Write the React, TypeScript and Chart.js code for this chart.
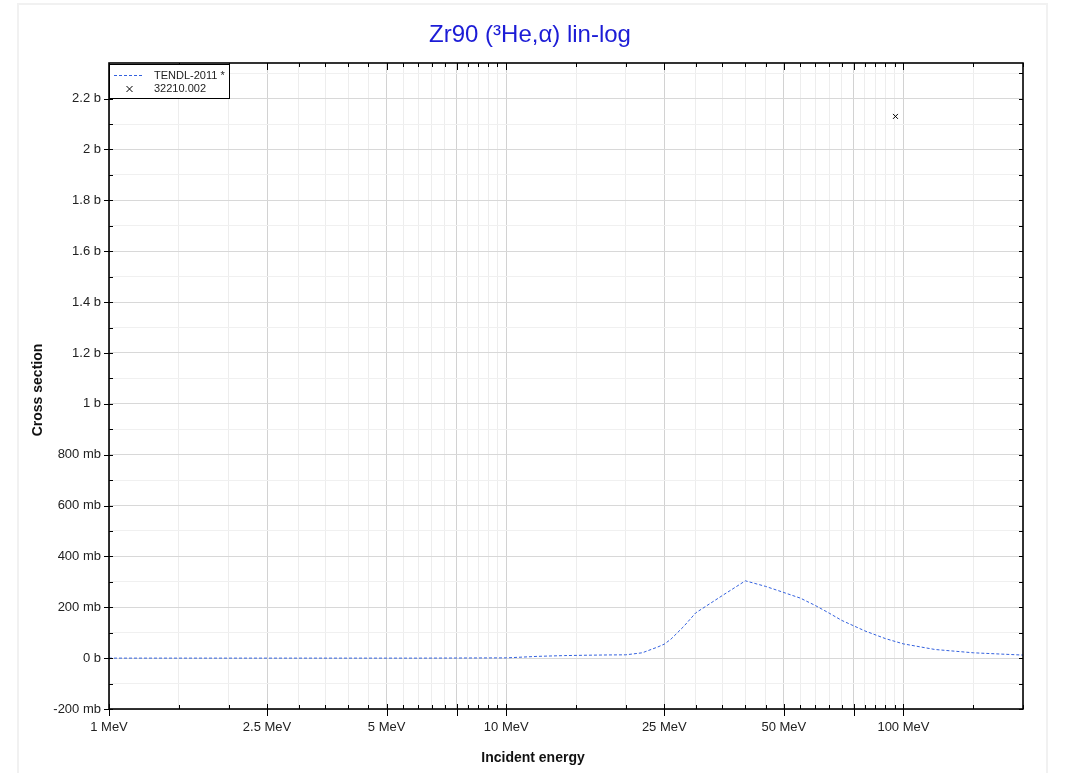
import React, { useEffect, useRef } from 'react';
import { Chart, registerables } from 'chart.js';

Chart.register(...registerables);

// ---- data ----
const TITLE = 'Zr90 (³He,α) lin-log';
const X_TITLE = 'Incident energy';
const Y_TITLE = 'Cross section';

const TENDL_LABEL = 'TENDL-2011 *';
const TENDL_ENERGY = [1, 3, 6, 10, 12, 14, 16, 18, 20, 22, 24, 25, 26, 28, 30, 35, 40, 45, 50, 55, 60, 65, 70, 80, 90, 100, 120, 150, 200];
const TENDL_XS = [0, 0, 0, 0.001, 0.007, 0.01, 0.0115, 0.0125, 0.013, 0.021, 0.043, 0.055, 0.075, 0.125, 0.178, 0.246, 0.304, 0.282, 0.258, 0.236, 0.207, 0.177, 0.148, 0.107, 0.077, 0.056, 0.034, 0.021, 0.012];

const EXFOR_LABEL = '32210.002';
const EXFOR_ENERGY = [95.5];
const EXFOR_XS = [2.13];

const X_MIN = 1;
const X_MAX = 200;
const X_TICKS = [1, 1.5, 2, 2.5, 3, 3.5, 4, 4.5, 5, 5.5, 6, 6.5, 7, 7.5, 8, 8.5, 9, 9.5, 10, 15, 20, 25, 30, 35, 40, 45, 50, 55, 60, 65, 70, 75, 80, 85, 90, 95, 100, 150, 200];
const X_MAJOR = [1, 2.5, 5, 7.5, 10, 25, 50, 75, 100];
const X_LABEL_VALUES = [1, 2.5, 5, 10, 25, 50, 100];
const X_LABEL_TEXT = ['1 MeV', '2.5 MeV', '5 MeV', '10 MeV', '25 MeV', '50 MeV', '100 MeV'];

const Y_MIN = -0.2;
const Y_MAX = 2.34;
const Y_TICKS = [-0.2, -0.1, 0, 0.1, 0.2, 0.3, 0.4, 0.5, 0.6, 0.7, 0.8, 0.9, 1, 1.1, 1.2, 1.3, 1.4, 1.5, 1.6, 1.7, 1.8, 1.9, 2, 2.1, 2.2, 2.3];
const Y_MAJOR = [-0.2, 0, 0.2, 0.4, 0.6, 0.8, 1, 1.2, 1.4, 1.6, 1.8, 2, 2.2];
const Y_LABEL_TEXT = ['-200 mb', '0 b', '200 mb', '400 mb', '600 mb', '800 mb', '1 b', '1.2 b', '1.4 b', '1.6 b', '1.8 b', '2 b', '2.2 b'];

const FONT = '"Liberation Sans", Arial, Helvetica, sans-serif';
const CURVE_COLOR = 'rgb(51, 97, 222)';

const idxIn = (v: number, arr: number[]) => arr.findIndex((a) => Math.abs(a - v) < 1e-9);

const decorPlugin = {
  id: 'decor',
  afterDatasetsDraw(chart: any) {
    const { ctx, chartArea: a, scales } = chart;
    const xs = scales.x;
    const ys = scales.y;
    ctx.save();
    ctx.strokeStyle = '#000';
    ctx.lineWidth = 1;
    ctx.beginPath();
    X_TICKS.forEach((v) => {
      const px = Math.round(xs.getPixelForValue(v)) + 0.5;
      const major = idxIn(v, X_MAJOR) >= 0;
      ctx.moveTo(px, a.bottom - (major ? 5 : 4));
      ctx.lineTo(px, a.bottom + (major ? 7 : 0));
      ctx.moveTo(px, a.top);
      ctx.lineTo(px, a.top + (major ? 7 : 4));
    });
    Y_TICKS.forEach((v) => {
      const py = Math.round(ys.getPixelForValue(v)) + 0.5;
      const major = idxIn(v, Y_MAJOR) >= 0;
      ctx.moveTo(a.left - (major ? 5 : 0), py);
      ctx.lineTo(a.left + 4, py);
      ctx.moveTo(a.right - 4, py);
      ctx.lineTo(a.right, py);
    });
    ctx.stroke();
    ctx.lineWidth = 1.6;
    ctx.strokeRect(a.left, a.top, a.right - a.left, a.bottom - a.top);
    ctx.restore();
  },
  afterDraw(chart: any) {
    const { ctx, chartArea: a } = chart;
    ctx.save();
    // title
    ctx.fillStyle = 'rgb(28, 28, 214)';
    ctx.font = `24px ${FONT}`;
    ctx.textAlign = 'center';
    ctx.textBaseline = 'alphabetic';
    ctx.fillText(TITLE, 530, 42);
    // axis titles
    ctx.fillStyle = '#111';
    ctx.font = `bold 14px ${FONT}`;
    ctx.fillText(X_TITLE, 533, 762);
    ctx.save();
    ctx.translate(42, 390);
    ctx.rotate(-Math.PI / 2);
    ctx.fillText(Y_TITLE, 0, 0);
    ctx.restore();
    // legend
    const lx = a.left;
    const ly = a.top + 1;
    ctx.fillStyle = '#fff';
    ctx.fillRect(lx, ly, 120, 34);
    ctx.strokeStyle = '#000';
    ctx.lineWidth = 1;
    ctx.strokeRect(lx + 0.5, ly + 0.5, 120, 34);
    ctx.strokeStyle = CURVE_COLOR;
    ctx.setLineDash([3, 2]);
    ctx.beginPath();
    ctx.moveTo(lx + 5, ly + 11.5);
    ctx.lineTo(lx + 34, ly + 11.5);
    ctx.stroke();
    ctx.setLineDash([]);
    ctx.strokeStyle = '#000';
    ctx.beginPath();
    const cx = lx + 20.5;
    const cy = ly + 25;
    ctx.moveTo(cx - 3, cy - 3);
    ctx.lineTo(cx + 3, cy + 3);
    ctx.moveTo(cx - 3, cy + 3);
    ctx.lineTo(cx + 3, cy - 3);
    ctx.stroke();
    ctx.fillStyle = '#222';
    ctx.font = `11px ${FONT}`;
    ctx.textAlign = 'left';
    ctx.textBaseline = 'middle';
    ctx.fillText(TENDL_LABEL, lx + 45, ly + 11.5);
    ctx.fillText(EXFOR_LABEL, lx + 45, ly + 25);
    ctx.restore();
  },
};

export default function App() {
  const ref = useRef<HTMLCanvasElement | null>(null);

  useEffect(() => {
    if (!ref.current) return;
    const chart = new Chart(ref.current, {
      type: 'line',
      data: {
        datasets: [
          {
            label: TENDL_LABEL,
            data: TENDL_ENERGY.map((e, i) => ({ x: e, y: TENDL_XS[i] })),
            borderColor: CURVE_COLOR,
            borderWidth: 1,
            borderDash: [3, 2],
            pointRadius: 0,
            tension: 0,
            fill: false,
          },
          {
            label: EXFOR_LABEL,
            data: EXFOR_ENERGY.map((e, i) => ({ x: e, y: EXFOR_XS[i] })),
            showLine: false,
            pointStyle: 'crossRot',
            pointRadius: 3.5,
            borderColor: '#000',
            backgroundColor: '#000',
            pointBorderWidth: 1,
          },
        ],
      },
      options: {
        responsive: false,
        animation: false,
        events: [],
        layout: { padding: { top: 63, right: 48, left: 0, bottom: 0 } },
        plugins: {
          legend: { display: false },
          title: { display: false },
          tooltip: { enabled: false },
        },
        scales: {
          x: {
            type: 'logarithmic',
            min: X_MIN,
            max: X_MAX,
            afterBuildTicks: (s: any) => {
              s.ticks = X_TICKS.map((v) => ({ value: v, major: false }));
            },
            afterFit: (s: any) => {
              s.height = 64;
            },
            border: { display: false },
            grid: {
              drawTicks: false,
              lineWidth: 1,
              color: (c: any) => (idxIn(c.tick?.value, X_MAJOR) >= 0 ? '#d2d2d2' : '#ededed'),
            },
            ticks: {
              autoSkip: false,
              maxRotation: 0,
              minRotation: 0,
              padding: 11,
              color: '#222',
              font: { family: FONT, size: 13 },
              callback: (v: any) => {
                const i = idxIn(Number(v), X_LABEL_VALUES);
                return i >= 0 ? X_LABEL_TEXT[i] : '';
              },
            },
          },
          y: {
            type: 'linear',
            min: Y_MIN,
            max: Y_MAX,
            afterBuildTicks: (s: any) => {
              s.ticks = Y_TICKS.map((v) => ({ value: v }));
            },
            afterFit: (s: any) => {
              s.width = 109;
            },
            border: { display: false },
            grid: {
              drawTicks: false,
              lineWidth: 1,
              color: (c: any) => (idxIn(c.tick?.value, Y_MAJOR) >= 0 ? '#d8d8d8' : '#f0f0f0'),
            },
            ticks: {
              autoSkip: false,
              padding: 8,
              color: '#222',
              font: { family: FONT, size: 13 },
              callback: (v: any) => {
                const i = idxIn(Number(v), Y_MAJOR);
                return i >= 0 ? Y_LABEL_TEXT[i] : '';
              },
            },
          },
        },
      },
      plugins: [decorPlugin],
    } as any);
    return () => chart.destroy();
  }, []);

  return (
    <div style={{ position: 'absolute', left: 0, top: 0, width: 1071, height: 773, overflow: 'hidden', background: '#fff' }}>
      <div
        style={{
          position: 'absolute',
          left: 17,
          top: 3,
          width: 1031,
          height: 800,
          border: '2px solid #f1f1f1',
          boxSizing: 'border-box',
        }}
      />
      <canvas ref={ref} width={1071} height={773} style={{ position: 'absolute', left: 0, top: 0 }} />
    </div>
  );
}
